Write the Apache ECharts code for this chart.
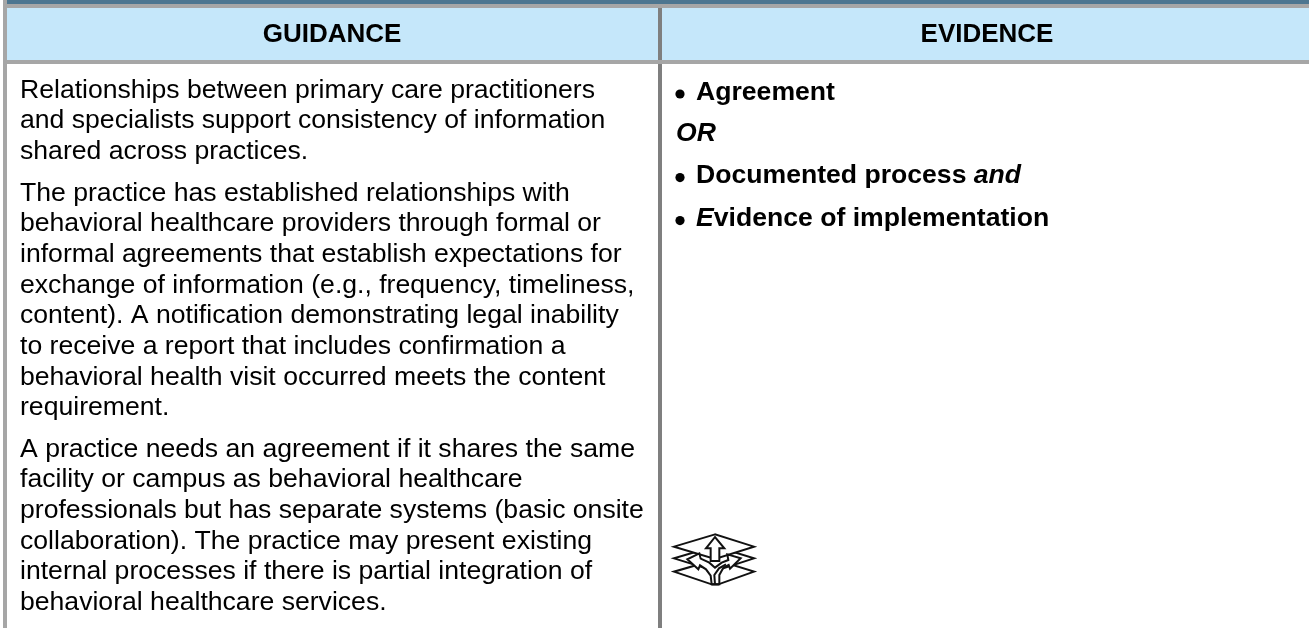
<!DOCTYPE html>
<html><head><meta charset="utf-8">
<style>html,body{margin:0;padding:0;background:#fff}#c{width:1309px;height:628px}</style>
<script src="https://cdn.jsdelivr.net/npm/echarts@6/dist/echarts.min.js"></script>
</head><body><div id="c"></div>
<script>
const headers = ["GUIDANCE", "EVIDENCE"];
const paragraph1 = [
 "Relationships between primary care practitioners",
 "and specialists support consistency of information",
 "shared across practices."
];
const paragraph2 = [
 "The practice has established relationships with",
 "behavioral healthcare providers through formal or",
 "informal agreements that establish expectations for",
 "exchange of information (e.g., frequency, timeliness,",
 "content). A notification demonstrating legal inability",
 "to receive a report that includes confirmation a",
 "behavioral health visit occurred meets the content",
 "requirement."
];
const paragraph3 = [
 "A practice needs an agreement if it shares the same",
 "facility or campus as behavioral healthcare",
 "professionals but has separate systems (basic onsite",
 "collaboration). The practice may present existing",
 "internal processes if there is partial integration of",
 "behavioral healthcare services."
];
const evidence1 = "Agreement";
const evidenceOr = "OR";
const evidence2 = ["Documented process ", "and"];
const evidence3 = ["E", "vidence of implementation"];

const font = '"Liberation Sans", Arial, sans-serif';
const FS = 26.6, MID = 9.2;
const g = [];
const rect = (x,y,w,h,fill)=>g.push({type:'rect',shape:{x,y,width:w,height:h},style:{fill},silent:true});
const text = (x,base,t,o={})=>g.push({type:'text',x,y:base-MID,silent:true,style:Object.assign({text:t,fill:'#000',fontFamily:font,fontSize:FS,verticalAlign:'middle'},o)});
rect(7,0,1302,4,'#4d7690');
rect(3,8,1306,52,'#c5e7fa');
rect(658,8,4,620,'#7f7f7f');
rect(3,4,1306,4,'#a6a6a6');
rect(3,60,1306,4,'#a6a6a6');
rect(3,0,4,628,'#a6a6a6');
const H={fontWeight:'bold',textAlign:'center',fontSize:26};
text(332,44,headers[0],H);
text(987,44,headers[1],H);
const LH=30.62;
[[paragraph1,99.4],[paragraph2,202.7],[paragraph3,458.5]].forEach(([lines,start])=>
  lines.forEach((l,i)=>text(20,start+i*LH,l)));
const rich={
  b:{fontFamily:font,fontSize:FS,fontWeight:'bold',fill:'#000'},
  i:{fontFamily:font,fontSize:FS,fontWeight:'bold',fontStyle:'italic',fill:'#000'}
};
const row=(x,base,parts)=>g.push({type:'text',x,y:base-MID,silent:true,style:{text:parts.map(p=>`{${p[1]}|${p[0]}}`).join(''),fontFamily:font,fontSize:FS,verticalAlign:'middle',rich}});
const bullet=(base)=>g.push({type:'circle',shape:{cx:680,cy:base-7.7,r:4.6},style:{fill:'#000'},silent:true});
bullet(101.7); row(696,101.7,[[evidence1,'b']]);
row(676,142.7,[[evidenceOr,'i']]);
bullet(185.3); row(696,185.3,[[evidence2[0],'b'],[evidence2[1],'i']]);
bullet(228.3); row(696,228.3,[[evidence3[0],'i'],[evidence3[1],'b']]);

// decorative icon, drawn in its own local grid
const pts=a=>a.map(p=>[670+p[0]/3,525+p[1]/3]);
const ico=(points,fill)=>g.push({type:fill?'polygon':'polyline',shape:{points:pts(points)},silent:true,
  style:{fill:fill?'#fff':'none',stroke:'#111',lineWidth:2,lineJoin:'miter'}});
ico([[135,104],[12,140],[125,178],[145,178],[252,140]],true);
ico([[135,64],[12,100],[135,138],[252,100]],true);
ico([[135,28],[12,65],[135,102],[252,65]],true);
ico([[135,36],[108,70],[122,70],[122,108],[148,108],[148,70],[163,70]],true);
ico([[125,178],[122,152],[108,133],[90,121],[85,133],[52,103],[88,85],[92,101],[118,113],[135,128],
     [155,113],[175,105],[172,88],[212,100],[180,131],[176,120],[160,128],[148,150],[148,178]],true);
ico([[125,178],[148,178]]);
ico([[135,178],[133,150],[147,130],[168,118]]);
echarts.init(document.getElementById('c'),null,{renderer:'canvas'}).setOption({animation:false,graphic:g});
</script></body></html>
